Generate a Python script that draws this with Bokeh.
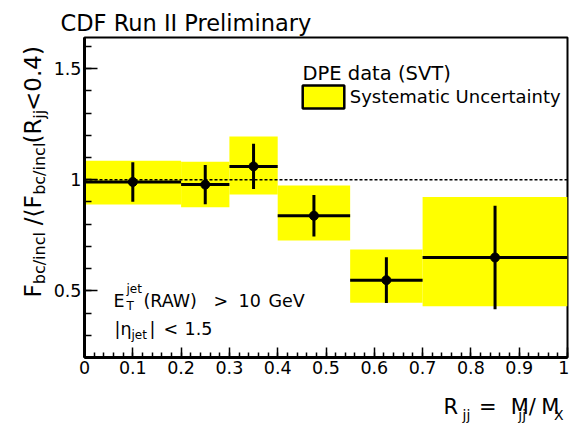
import numpy as np
from bokeh.plotting import figure
from bokeh.models import (Range1d, FixedTicker, Label, Legend, LegendItem,
                          ColumnDataSource)
from bokeh.embed import file_html
from bokeh.resources import INLINE

# ---------------- data ----------------
bin_lo = [0.0, 0.2, 0.3, 0.4, 0.55, 0.7]
bin_hi = [0.2, 0.3, 0.4, 0.55, 0.7, 1.0]
x_center = [0.1, 0.25, 0.35, 0.475, 0.625, 0.85]
ratio = [0.99, 0.978, 1.06, 0.838, 0.548, 0.650]
stat_err = [0.089, 0.088, 0.102, 0.093, 0.103, 0.233]
syst_up = [0.095, 0.103, 0.134, 0.136, 0.138, 0.272]
syst_dn = [0.102, 0.102, 0.127, 0.111, 0.102, 0.219]
unity = 1.0

x_ticks = [0.0, 0.1, 0.2, 0.3, 0.4, 0.5, 0.6, 0.7, 0.8, 0.9, 1.0]
x_tick_labels = ["0", "0.1", "0.2", "0.3", "0.4", "0.5", "0.6", "0.7", "0.8", "0.9", "1"]
y_ticks = [0.5, 1.0, 1.5]
y_tick_labels = ["0.5", "1", "1.5"]
X_MIN, X_MAX = 0.0, 1.0
Y_MIN, Y_MAX = 0.2, 1.64

FONT = "DejaVu Sans"
YELLOW = "#ffff00"

# ---------------- layout (figure px) ----------------
W, H = 569, 423
FL, FR, FT, FB = 84, 567, 37, 357

p = figure(width=W, height=H, x_range=Range1d(X_MIN, X_MAX), y_range=Range1d(Y_MIN, Y_MAX),
           output_backend="svg", toolbar_location=None, title=None,
           min_border_left=FL, min_border_right=W - FR, min_border_top=FT, min_border_bottom=H - FB)
p.background_fill_color = "white"
p.border_fill_color = "white"
p.xgrid.visible = False
p.ygrid.visible = False
p.outline_line_color = "black"
p.outline_line_width = 2

lo = np.array(bin_lo); hi = np.array(bin_hi); xc = np.array(x_center)
r = np.array(ratio); se = np.array(stat_err)
su = np.array(syst_up); sd = np.array(syst_dn)

box_src = ColumnDataSource(dict(left=lo, right=hi, bottom=r - sd, top=r + su))

# systematic boxes
p.quad(left="left", right="right", bottom="bottom", top="top", source=box_src,
       fill_color=YELLOW, line_alpha=0)
# legend sample renderer: outlined boxes, kept muted (invisible) on the plot
leg_r = p.quad(left="left", right="right", bottom="bottom", top="top", source=box_src,
               fill_color=YELLOW, line_color="black", line_width=2.5,
               muted_fill_alpha=0, muted_line_alpha=0)
leg_r.muted = True
# reference line
p.segment(x0=[X_MIN], x1=[X_MAX], y0=[unity], y1=[unity], line_color="black",
          line_width=1.5, line_dash="3 2")
# error bars
p.segment(x0=lo, x1=hi, y0=r, y1=r, line_color="black", line_width=3)
p.segment(x0=xc, x1=xc, y0=r - se, y1=r + se, line_color="black", line_width=3)
p.scatter(xc, r, size=9, color="black")

legend = Legend(items=[LegendItem(label="Systematic Uncertainty", renderers=[leg_r], index=0)],
                location=(212.75, 246.1), padding=0, margin=0, spacing=0,
                glyph_width=52, glyph_height=29, label_standoff=1,
                label_text_font=FONT, label_text_font_size="18px", label_text_color="black",
                border_line_alpha=0, background_fill_alpha=0, click_policy="none")
p.add_layout(legend)

# axes
x_minor = [round(0.02 * i, 2) for i in range(51)]
y_minor = [round(0.1 * i, 1) for i in range(2, 17)]
p.xaxis.ticker = FixedTicker(ticks=x_ticks, minor_ticks=x_minor)
p.yaxis.ticker = FixedTicker(ticks=y_ticks, minor_ticks=y_minor)
p.xaxis.major_label_overrides = dict(zip(x_ticks, x_tick_labels))
p.yaxis.major_label_overrides = dict(zip(y_ticks, y_tick_labels))
for ax in (p.xaxis, p.yaxis):
    ax.axis_line_width = 3
    ax.axis_line_color = "black"
    ax.major_tick_out = 0
    ax.minor_tick_out = 0
    ax.major_tick_line_width = 1.5
    ax.minor_tick_line_width = 1.5
    ax.major_label_text_font = FONT
    ax.major_label_text_font_size = "17.5px"
    ax.major_label_text_color = "black"
p.xaxis.major_tick_in = 10
p.xaxis.minor_tick_in = 5
p.yaxis.major_tick_in = 13
p.yaxis.minor_tick_in = 7
p.xaxis.major_label_standoff = 3
p.yaxis.major_label_standoff = 3


def dx(px):
    return X_MIN + (px - FL) / (FR - FL) * (X_MAX - X_MIN)


def dy(py):
    return Y_MIN + (FB - py) / (FB - FT) * (Y_MAX - Y_MIN)


def lab(text, px, py, size, angle=0.0, place="center"):
    p.add_layout(Label(x=dx(px), y=dy(py), text=text, text_font=FONT,
                       text_font_size=f"{size}px", text_color="black",
                       text_align="left", text_baseline="alphabetic", angle=angle), place)


# DejaVu Sans advance widths (em)
EM = {'F': 0.575, 'b': 0.635, 'c': 0.550, '/': 0.337, 'i': 0.278, 'n': 0.634, 'l': 0.278,
      ' ': 0.318, '\u00a0': 0.318, '\u27e8': 0.390, '(': 0.390, 'R': 0.695, 'j': 0.278,
      '<': 0.838, '0': 0.636, '.': 0.318, '4': 0.636, ')': 0.390, '=': 0.838, 'M': 0.863,
      'X': 0.685}
SPACES = [("\u2003", 1.0), ("\u2002", 0.5), ("\u2004", 0.3333), ("\u2005", 0.25),
          ("\u2006", 0.1667), ("\u200a", 0.1)]


def tw(text, fs):
    return sum(EM.get(ch, 0.6) for ch in text) * fs


def gap(px, fs):
    em = px / fs
    s = ""
    for ch, w in SPACES:
        while em >= w - 0.04:
            s += ch
            em -= w
    return s


# texts inside the frame
lab("DPE data (SVT)", 302, 73, 19.5)
lab("E", 113, 300, 17.5)
lab("jet", 126, 288, 12)
lab("T", 126, 305, 12)
lab("(RAW)", 143, 300, 17.5)
lab(">", 213, 300, 17.5)
lab("10", 238, 300, 17.5)
lab("GeV", 268, 300, 17.5)
lab("|\u03b7", 114, 328, 17.5)
lab("jet", 131, 334, 12)
lab("|", 149, 328, 17.5)
lab("<", 163, 328, 17.5)
lab("1.5", 184, 328, 17.5)

# texts outside the frame: placed in side panels (not clipped there)
lab("CDF Run II Preliminary", 60, 22, 22.5, place="above")

# x axis title: R_jj = M_jj / M_X
XM, XS = 21, 14
x_main = ("R" + gap(479 - 443 - tw("R", XM), XM) + "=" + gap(510 - 479 - tw("=", XM), XM)
          + "M/" + gap(540 - 510 - tw("M/", XM), XM) + "M")
x_sub = "jj" + gap(518 - 462 - tw("jj", XS), XS) + "jj" + gap(554 - 518 - tw("jj", XS), XS) + "X"
lab(x_main, 443, 406, XM, place="below")
lab(x_sub, 462, 414, XS, place="below")

# y axis title: F_bc/incl / <F_bc/incl(R_jj<0.4)
YM, YS = 23, 16
y_main = ("F" + gap(tw("bc/incl", YS), YM) + "\u00a0/\u27e8F" + gap(tw("bc/incl", YS), YM)
          + "(R" + gap(tw("jj", YS), YM) + "<0.4)")
y_sub = ("bc/incl" + gap(tw(" /\u27e8F", YM), YS) + "bc/incl" + gap(tw("(R", YM), YS) + "jj")
lab(y_main, 32, 297, YM, angle=np.pi / 2, place="left")
lab(y_sub, 39, 297 - tw("F", YM), YS, angle=np.pi / 2, place="left")

open("out.html", "w").write(file_html(p, INLINE))
